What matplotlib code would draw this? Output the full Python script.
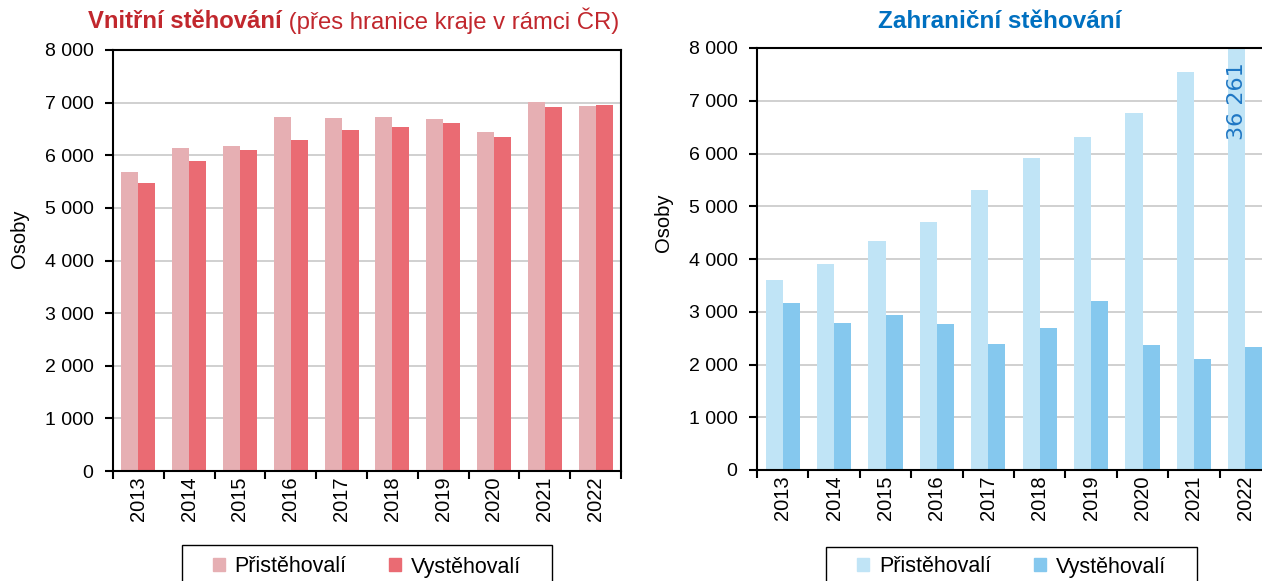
import matplotlib
matplotlib.use("Agg")
import matplotlib.pyplot as plt
import matplotlib.patches as patches
import matplotlib.ticker as mticker
import numpy as np

plt.rcParams['font.family'] = ['Liberation Sans', 'DejaVu Sans']

# Data
roky = ['2013', '2014', '2015', '2016', '2017', '2018', '2019', '2020', '2021', '2022']

vnitrni_pri = [5690, 6140, 6185, 6718, 6711, 6730, 6680, 6451, 7006, 6937]
vnitrni_vys = [5480, 5886, 6095, 6299, 6476, 6540, 6604, 6356, 6925, 6962]

zahr_pri = [3602, 3905, 4342, 4696, 5317, 5918, 6322, 6772, 7540, 36261]
zahr_vys = [3160, 2786, 2930, 2770, 2380, 2690, 3203, 2367, 2110, 2340]

legenda = ['Přistěhovalí', 'Vystěhovalí']

W_PX, H_PX = 1262, 581
fig = plt.figure(figsize=(W_PX / 100, H_PX / 100), dpi=100)


def px_box(x0, y0, x1, y1):
    # pixel box (top-left origin) -> figure fraction [left, bottom, width, height]
    return [x0 / W_PX, 1 - y1 / H_PX, (x1 - x0) / W_PX, (y1 - y0) / H_PX]


def kresli(ax, pri, vys, c_pri, c_vys):
    x = np.arange(len(roky))
    w = 1 / 3
    ax.bar(x - w / 2, pri, width=w, color=c_pri, zorder=2)
    ax.bar(x + w / 2, vys, width=w, color=c_vys, zorder=2)

    ax.set_xlim(-0.5, len(roky) - 0.5)
    ax.set_ylim(0, 8000)
    ax.yaxis.set_major_locator(mticker.MultipleLocator(1000))
    ax.yaxis.set_major_formatter(mticker.FuncFormatter(
        lambda v, p: f"{int(v):,}".replace(",", " ")))
    ax.grid(axis='y', color='#c4c4c4', linewidth=1.1, zorder=0)

    ax.set_xticks(np.arange(-0.5, len(roky), 1.0))
    ax.set_xticklabels([])
    ax.set_xticks(x, minor=True)
    ax.set_xticklabels(roky, minor=True, rotation=90, va='top')
    ax.tick_params(axis='x', which='major', length=6, width=1.5, direction='out')
    ax.tick_params(axis='x', which='minor', length=0, pad=4, labelsize=14.5)
    ax.tick_params(axis='y', length=6, width=1.5, direction='out', pad=8, labelsize=14)

    for s in ax.spines.values():
        s.set_linewidth(1.5)
        s.set_color('black')
    return x, w


def legenda_box(x0, y0, x1, y1, c_pri, c_vys):
    box = px_box(x0, y0, x1, y1)
    fig.patches.append(patches.Rectangle((box[0], box[1]), box[2], box[3],
                                         transform=fig.transFigure, fill=False,
                                         edgecolor='black', linewidth=1.0))
    h = [patches.Patch(color=c_pri), patches.Patch(color=c_vys)]
    fig.legend(h, legenda, loc='center', ncol=2, frameon=False, fontsize=15.5,
               bbox_to_anchor=((x0 + x1) / 2 / W_PX, 1 - 567 / H_PX),
               handlelength=0.55, handleheight=0.55, handletextpad=0.45,
               columnspacing=2.0)


# Vnitrni stehovani
c1a, c1b = '#e6afb3', '#ea6b73'
ax1 = fig.add_axes(px_box(113, 50, 621, 471))
kresli(ax1, vnitrni_pri, vnitrni_vys, c1a, c1b)

red = '#c1272d'
t1 = fig.text(88 / W_PX, 1 - 22 / H_PX, 'Vnitřní stěhování', color=red,
              fontsize=17.2, fontweight='bold', ha='left', va='center')
ax1.annotate(' (přes hranice kraje v rámci ČR)', xy=(1, 0), xycoords=t1,
             va='bottom', ha='left', color=red, fontsize=17.2,
             annotation_clip=False)
fig.text(20 / W_PX, 1 - 239 / H_PX, 'Osoby', rotation=90, ha='center',
         va='center', fontsize=14.5)
legenda_box(182, 545, 552, 592, c1a, c1b)

# Zahranicni stehovani
c2a, c2b = '#c0e4f6', '#85c8ee'
ax2 = fig.add_axes(px_box(757, 48, 1271, 470))
x2, w2 = kresli(ax2, zahr_pri, zahr_vys, c2a, c2b)

blue = '#0070c0'
fig.text(1000 / W_PX, 1 - 22 / H_PX, 'Zahraniční stěhování', color=blue,
         fontsize=17.5, fontweight='bold', ha='center', va='center')
fig.text(664 / W_PX, 1 - 223 / H_PX, 'Osoby', rotation=90, ha='center',
         va='center', fontsize=14.5)

# popisek orezaneho sloupce
i = len(roky) - 1
ax2.annotate(f"{zahr_pri[i]:,}".replace(",", " "), xy=(x2[i] - w2 / 2, 8000),
             xytext=(0, -10), textcoords='offset points', rotation=90,
             ha='center', va='top', color='#1f77c4', fontsize=16,
             family='DejaVu Sans', annotation_clip=False)
legenda_box(826, 547, 1197, 592, c2a, c2b)

fig.savefig('out.png', dpi=100)
